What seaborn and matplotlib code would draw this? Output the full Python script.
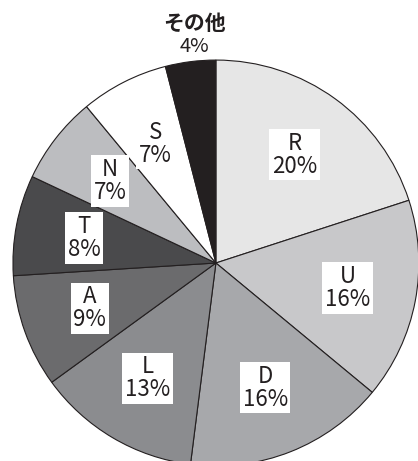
import numpy as np
import pandas as pd
import seaborn as sns
import matplotlib.pyplot as plt

labels = ['R', 'U', 'D', 'L', 'A', 'T', 'N', 'S', 'その他']
shares = [20, 16, 16, 13, 9, 8, 7, 7, 4]
colors = ['#e6e6e6', '#c8c8ca', '#a7a8ab', '#8b8c8f', '#6b6b6d',
          '#4a4a4c', '#bcbdc0', '#ffffff', '#231f20']


def main():
    sns.set_theme(style='white')
    plt.rcParams['font.family'] = ['Noto Sans CJK JP', 'DejaVu Sans']

    df = pd.DataFrame({'label': labels, 'share': shares, 'color': colors})

    fig = plt.figure(figsize=(4.18, 4.61), dpi=100)
    ax = fig.add_axes([0.031, -0.011, 0.971, 0.881])
    wedges, _ = ax.pie(df['share'], colors=df['color'], startangle=90,
                       counterclock=False, radius=1,
                       wedgeprops={'edgecolor': '#231f20', 'linewidth': 0.8})
    for w in wedges:
        w.set_clip_on(False)
    ax.set_xlim(-1, 1)
    ax.set_ylim(-1, 1)
    ax.set_aspect('equal')
    ax.axis('off')

    for w, lab, s in zip(wedges, df['label'], df['share']):
        ang = np.deg2rad((w.theta1 + w.theta2) / 2)
        if lab == 'その他':
            x = np.cos(ang) * 0.85
            ax.text(x, 1.015, f'{s}%', ha='center', va='bottom',
                    fontsize=14.5, color='#231f20', clip_on=False)
            ax.text(x, 1.13, lab, ha='center', va='bottom',
                    fontsize=15, fontweight='bold', color='#231f20',
                    clip_on=False)
            continue
        r = 0.66
        ax.text(r * np.cos(ang), r * np.sin(ang), f'{lab}\n{s}%',
                ha='center', va='center', fontsize=16, linespacing=1.0,
                color='#231f20',
                bbox=dict(boxstyle='square,pad=0.12', fc='white', ec='none'))

    plt.savefig('out.png', dpi=100)
    plt.close()


if __name__ == '__main__':
    main()
